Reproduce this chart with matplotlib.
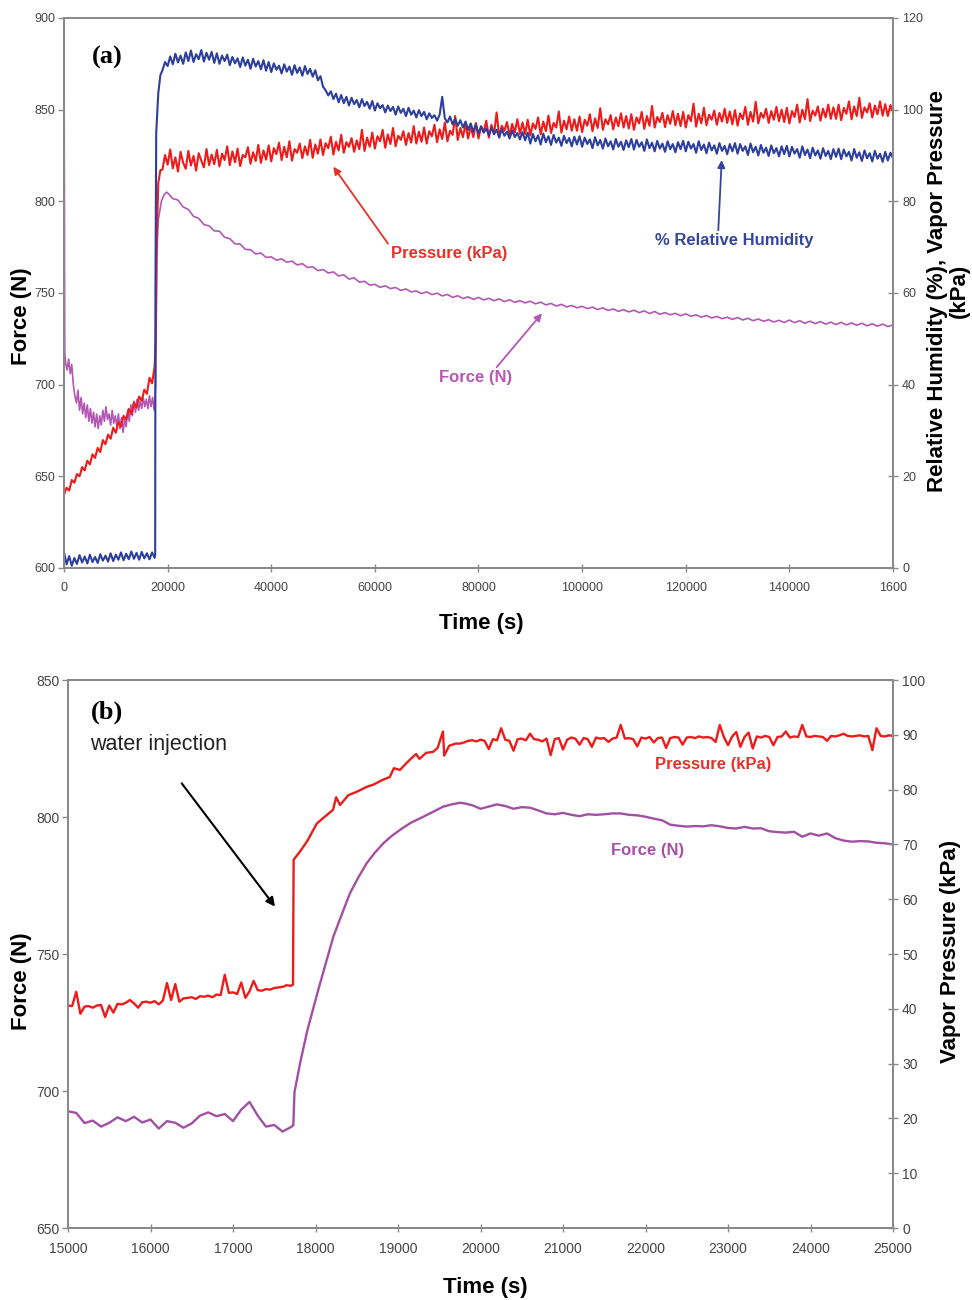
import numpy as np
import matplotlib.pyplot as plt

plt.rcParams['font.family'] = ['Liberation Sans', 'DejaVu Sans']

# ---------------- panel (a): full run, 0 - 160000 s ----------------
a_xticks = [0, 20000, 40000, 60000, 80000, 100000, 120000, 140000, 160000]
a_xticklabels = ['0', '20000', '40000', '60000', '80000', '100000', '120000', '140000', '1600']

# before water injection, sampled every 500 s
a_t_early = np.arange(0, 17501, 500)
a_press_early = [16.0, 17.5, 16.9, 19.2, 18.6, 20.5, 20.0, 22.0, 21.3, 23.4,
                 22.6, 24.8, 24.0, 26.2, 25.3, 27.9, 27.0, 29.1, 28.2, 30.6,
                 29.5, 31.8, 30.9, 33.2, 32.4, 34.7, 33.6, 36.1, 35.0, 37.4,
                 36.5, 38.9, 38.0, 41.5, 40.3, 44.0]
a_rh_early = [3.5, 0.8, 2.6, 0.5, 2.2, 0.9, 2.8, 1.2, 2.5, 1.0,
              2.9, 1.3, 2.4, 1.1, 3.0, 1.6, 2.7, 1.4, 3.2, 1.5,
              2.9, 1.8, 3.4, 1.7, 3.1, 1.9, 3.6, 2.0, 3.3, 1.8,
              3.5, 2.1, 3.2, 1.9, 3.4, 2.2]

# step up after injection
a_press_jump_t = [17700, 17900, 18200, 18600]
a_press_jump = [50.0, 72.0, 84.0, 86.8]
a_rh_jump_t = [17600, 17650, 17800, 18200, 18600]
a_rh_jump = [3.0, 60.0, 95.0, 103.6, 107.5]

# long run, sampled every 500 s
a_t_main = np.arange(19000, 160001, 500)
a_press_main = [
    86.9, 90.1, 88.0, 91.3, 87.2, 89.6, 86.5, 90.8, 88.4, 87.1, 91.0, 87.8, 89.9, 86.7, 90.5, 88.9, 87.4, 91.4, 87.9, 90.2,
    88.1, 91.2, 87.6, 90.4, 89.0, 92.0, 87.9, 90.9, 88.5, 91.5, 87.7, 90.1, 89.6, 91.8, 88.2, 90.7, 88.8, 92.3, 88.4, 91.1,
    89.1, 92.2, 88.7, 91.6, 90.3, 92.8, 89.0, 91.9, 89.6, 93.1, 88.9, 91.4, 90.6, 92.6, 89.4, 92.0, 90.1, 93.4, 89.5, 92.4,
    90.4, 93.5, 90.1, 92.7, 91.6, 94.1, 90.2, 93.0, 91.1, 94.5, 90.6, 92.9, 91.9, 93.8, 90.8, 93.3, 91.4, 95.6, 91.0, 93.9,
    91.9, 95.0, 91.5, 94.2, 93.1, 95.6, 91.7, 94.6, 92.5, 96.0, 92.0, 94.3, 93.4, 95.3, 92.3, 94.9, 92.8, 96.4, 92.6, 95.2,
    93.0, 96.1, 92.6, 95.3, 94.2, 96.7, 92.9, 95.7, 93.6, 97.2, 93.1, 95.4, 94.5, 98.6, 93.4, 96.0, 94.0, 96.9, 93.7, 96.3,
    94.0, 97.1, 93.7, 96.4, 95.1, 97.6, 93.9, 96.7, 94.6, 99.4, 94.1, 96.5, 95.4, 97.3, 94.3, 96.9, 95.0, 97.9, 94.7, 97.2,
    94.7, 97.8, 94.4, 97.0, 95.8, 98.3, 94.6, 97.4, 95.3, 98.7, 94.9, 97.1, 96.1, 99.6, 95.0, 97.6, 95.7, 98.5, 95.4, 97.9,
    95.4, 98.5, 95.1, 97.8, 96.5, 99.0, 95.3, 98.1, 96.0, 100.3, 95.6, 97.9, 96.8, 98.8, 95.7, 98.3, 96.4, 99.2, 96.1, 98.6,
    95.9, 99.0, 95.6, 98.3, 97.0, 99.5, 95.8, 98.6, 96.5, 100.8, 96.1, 98.4, 97.3, 99.3, 96.2, 98.8, 96.9, 99.7, 96.6, 99.1,
    96.4, 99.5, 96.1, 98.8, 97.5, 101.3, 96.3, 99.1, 97.0, 100.4, 96.6, 98.9, 97.8, 99.8, 96.7, 99.3, 97.4, 100.2, 97.1, 99.6,
    96.8, 99.9, 96.5, 99.2, 97.9, 100.6, 96.7, 99.5, 97.4, 101.7, 97.0, 99.3, 98.2, 100.2, 97.1, 99.7, 97.8, 100.6, 97.5, 100.0,
    97.3, 100.4, 97.0, 99.7, 98.4, 101.1, 97.2, 100.0, 97.9, 102.3, 97.5, 99.8, 98.7, 100.7, 97.6, 100.2, 98.3, 101.1, 98.0, 100.5,
    98.0, 101.1, 97.7, 100.4, 99.1, 101.8, 97.9, 100.7, 98.6, 102.6, 98.2, 100.5, 99.4, 101.4, 98.3, 100.9, 99.0, 101.8, 98.7, 101.2,
    98.6, 101.0, 99.5]
a_rh_main = [
    108.6, 110.4, 109.5, 111.6, 109.9, 112.2, 110.3, 111.8, 110.0, 112.5, 110.6, 112.9, 110.4, 112.1, 111.0, 113.0, 110.5, 112.4, 110.9, 112.6,
    110.2, 112.3, 110.0, 111.8, 110.6, 112.0, 109.7, 111.5, 110.1, 111.2, 109.3, 111.4, 109.6, 110.9, 108.9, 111.1, 109.4, 110.6, 108.8, 110.8,
    108.5, 110.4, 108.2, 110.1, 108.7, 109.6, 107.9, 109.9, 108.3, 109.4, 107.6, 109.7, 108.0, 109.2, 107.4, 109.5, 107.8, 108.9, 107.2, 108.6,
    106.4, 107.3, 105.0, 104.2, 103.1, 104.0, 102.3, 103.5, 101.6, 103.2, 101.4, 102.8, 100.9, 102.6, 101.2, 102.1, 100.5, 102.3, 100.8, 101.7,
    100.2, 101.9, 99.8, 101.4, 100.3, 101.0, 99.4, 100.9, 99.7, 100.6, 98.9, 100.7, 99.3, 100.2, 98.6, 100.4, 98.9, 99.8, 98.3, 99.9,
    98.6, 99.5, 97.9, 99.2, 98.2, 98.8, 97.6, 98.9, 102.8, 98.1, 97.2, 98.5, 96.8, 98.0, 96.5, 97.7, 96.1, 97.4, 95.6, 97.0,
    95.2, 96.8, 94.8, 96.3, 95.0, 95.9, 94.4, 96.1, 94.7, 95.6, 93.9, 95.8, 94.3, 95.2, 93.7, 95.5, 94.0, 94.9, 93.5, 95.1,
    93.3, 95.0, 92.6, 94.7, 93.1, 94.4, 92.4, 94.8, 92.9, 94.2, 92.3, 94.5, 92.8, 93.9, 92.1, 94.3, 92.7, 93.8, 92.0, 94.1,
    92.4, 94.2, 91.9, 93.9, 92.5, 93.5, 91.6, 94.0, 92.2, 93.4, 91.5, 93.7, 92.0, 93.1, 91.3, 93.6, 91.9, 93.0, 91.2, 93.3,
    91.8, 93.6, 91.3, 93.4, 91.9, 92.9, 91.0, 93.5, 91.6, 92.8, 90.9, 93.2, 91.5, 92.6, 90.8, 93.1, 91.4, 92.5, 90.7, 92.9,
    91.4, 93.2, 90.9, 93.0, 91.5, 92.5, 90.6, 93.1, 91.2, 92.4, 90.5, 92.8, 91.1, 92.2, 90.4, 92.7, 91.0, 92.1, 90.3, 92.5,
    90.9, 92.7, 90.4, 92.5, 91.0, 92.0, 90.1, 92.6, 90.7, 91.9, 90.0, 92.3, 90.6, 91.7, 89.9, 92.2, 90.5, 91.6, 89.8, 92.0,
    90.3, 92.1, 89.8, 91.9, 90.4, 91.4, 89.5, 92.0, 90.1, 91.3, 89.4, 91.7, 90.0, 91.1, 89.3, 91.6, 89.9, 91.0, 89.2, 91.4,
    89.7, 91.5, 89.2, 91.3, 89.8, 90.8, 88.9, 91.4, 89.5, 90.7, 88.8, 91.1, 89.4, 90.5, 88.7, 91.0, 89.3, 90.4, 88.6, 90.8,
    88.9, 90.6, 89.4]

# force on the left axis
a_force_early_t = [0, 150] + list(range(300, 17401, 300)) + [17600]
a_force_early = [900, 718,
                 712, 708, 714, 706, 711, 700, 694, 690, 697, 686,
                 693, 684, 690, 682, 689, 680, 687, 679, 685, 677,
                 684, 676, 683, 678, 686, 680, 688, 681, 684, 678,
                 686, 679, 683, 677, 684, 676, 682, 674, 681, 677,
                 686, 680, 689, 683, 691, 685, 692, 686, 691, 687,
                 693, 688, 692, 687, 694, 688, 693, 686,
                 695]
a_force_jump_t = [17700, 17800, 17900, 18200, 18800, 19300, 19800]
a_force_jump = [700, 738, 770, 790, 800, 803.5, 805.0]
a_force_main_t = np.arange(20000, 160001, 1000)
a_force_main = [
    804.6, 801.5, 800.7, 796.9, 795.6, 791.8, 790.7, 787.3, 786.6, 783.9,
    783.7, 780.4, 779.6, 776.8, 776.7, 773.8, 773.6, 771.3, 771.8, 769.4,
    769.7, 767.9, 768.6, 766.8, 767.4, 765.3, 766.0, 763.9, 764.3, 762.2,
    762.8, 760.9, 761.5, 759.3, 759.9, 757.6, 758.3, 755.9, 756.4, 754.3,
    754.7, 753.1, 753.9, 752.4, 753.0, 751.4, 752.2, 750.6, 751.1, 749.7,
    750.6, 749.1, 749.9, 748.4, 749.2, 747.6, 748.5, 747.0, 747.9, 746.5,
    747.6, 746.2, 747.1, 745.8, 746.8, 745.3, 746.3, 744.9, 745.8, 744.6,
    745.5, 744.1, 745.0, 743.5, 744.3, 742.9, 743.8, 742.4, 743.2, 741.9,
    742.7, 741.5, 742.3, 741.0, 741.9, 740.5, 741.3, 740.0, 740.9, 739.7,
    740.6, 739.3, 740.2, 738.8, 739.9, 738.4, 739.3, 738.1, 738.9, 737.6,
    738.6, 737.3, 738.1, 736.8, 737.7, 736.4, 737.2, 736.0, 736.8, 735.6,
    736.6, 735.3, 736.2, 734.9, 735.8, 734.6, 735.4, 734.2, 735.1, 733.9,
    735.2, 733.8, 734.9, 733.5, 734.6, 733.3, 734.4, 733.0, 734.1, 732.8,
    734.0, 732.6, 733.7, 732.4, 733.5, 732.1, 733.2, 731.9, 733.0, 731.7,
    732.6]

# ---------------- panel (b): zoom on the injection, 15000 - 25000 s ----------------
b_t_pre = np.arange(15000, 17701, 50)
b_press_pre = [40.6, 40.5, 43.1, 39.1, 40.4, 40.5, 40.2, 40.6, 40.7, 38.5,
               40.6, 39.3, 40.9, 40.8, 41.1, 41.6, 41.0, 40.2, 41.2, 41.3,
               41.1, 41.4, 40.8, 41.5, 44.7, 41.6, 44.5, 41.3, 41.9, 42.0,
               42.1, 41.8, 42.3, 42.2, 42.4, 42.1, 42.6, 42.5, 46.2, 42.9,
               43.0, 42.7, 44.8, 42.0, 43.2, 45.1, 43.4, 43.3, 43.6, 43.5,
               43.8, 43.9, 44.0, 44.3, 44.2]
b_press_rise_t = [17727, 17735, 17812, 17900, 18015, 18100, 18212, 18250, 18297, 18400,
                  18500, 18620, 18700, 18818, 18900, 18950, 19024, 19100, 19182, 19220,
                  19260, 19340, 19427, 19480, 19545, 19560, 19620, 19700, 19752]
b_press_rise = [44.4, 67.2, 68.7, 70.6, 73.8, 74.9, 76.3, 78.6, 77.2, 79.0,
                79.6, 80.5, 80.9, 81.8, 82.3, 83.9, 83.6, 84.8, 86.0, 86.5,
                85.6, 86.7, 86.9, 87.6, 90.6, 86.2, 88.0, 88.4, 88.4]
b_t_plat = np.arange(19800, 25001, 50)
b_press_plat = [
    88.6, 88.9, 89.0, 88.8, 89.1, 88.9, 87.4, 89.2, 89.0, 91.2,
    89.1, 88.9, 87.1, 89.2, 89.3, 89.0, 90.2, 89.2, 89.1, 88.8,
    89.3, 86.3, 89.2, 89.4, 87.3, 89.1, 89.5, 89.3, 88.2, 89.4,
    89.2, 87.8, 89.5, 89.3, 89.4, 88.7, 89.3, 89.5, 91.8, 89.3,
    89.4, 89.2, 87.9, 89.5, 89.3, 89.6, 88.6, 89.4, 89.5, 87.6,
    89.4, 89.6, 89.5, 88.2, 89.5, 89.6, 89.4, 89.7, 89.5, 89.6,
    89.4, 88.7, 91.8, 89.6, 88.1, 89.7, 90.5, 87.8, 89.6, 90.4,
    87.5, 89.7, 89.5, 89.8, 89.6, 88.1, 89.6, 89.7, 90.6, 89.5,
    89.7, 89.6, 91.8, 89.7, 89.6, 89.8, 89.7, 89.6, 88.9, 89.8,
    89.7, 89.9, 90.2, 89.8, 89.7, 89.8, 89.9, 89.7, 89.8, 87.2,
    91.2, 89.8, 89.7, 89.9, 89.8]

b_force_pre_t = np.arange(15000, 17701, 100)
b_force_pre = [692.6, 692.0, 688.3, 689.2, 687.0, 688.4, 690.4, 689.0, 690.6, 688.5,
               689.6, 686.3, 689.0, 688.4, 686.6, 688.2, 691.0, 692.2, 690.8, 691.6,
               689.0, 693.2, 696.0, 691.0, 687.0, 687.6, 685.2, 686.8]
b_force_rise_t = [17731, 17745, 17812, 17900, 18034, 18100, 18216, 18300, 18418, 18520,
                  18620, 18720, 18822, 18920, 19024, 19150, 19307, 19420, 19549, 19650,
                  19752]
b_force_rise = [687.5, 699.5, 710.0, 722.0, 737.0, 744.0, 756.3, 763.0, 772.2, 778.0,
                783.1, 787.0, 790.4, 793.0, 795.3, 797.8, 800.1, 801.8, 803.8, 804.6,
                805.2]
b_force_plat_t = np.arange(19800, 25001, 100)
b_force_plat = [805.0, 804.3, 803.0, 803.8, 804.6, 804.0, 803.0, 803.6, 803.4, 802.4,
                801.3, 801.0, 801.5, 800.8, 800.3, 801.0, 800.8, 801.0, 801.3, 801.3,
                800.8, 800.6, 800.1, 799.4, 798.8, 797.2, 796.8, 796.5, 796.7, 796.6,
                797.0, 796.6, 796.0, 795.8, 796.4, 795.8, 795.9, 794.8, 794.5, 794.3,
                794.6, 792.8, 794.0, 793.2, 794.0, 792.3, 791.4, 791.0, 791.2, 791.1,
                790.6, 790.4, 790.0]

RED = '#ee1b1b'
BLUE = '#2d3f9d'
PURPLE_A = '#b457b4'
PURPLE_B = '#a250a2'
SPINE = '#8a8a8a'
TICKTXT = '#444444'


def join(*parts):
    return np.concatenate([np.asarray(p, dtype=float) for p in parts])


def frame(ax, ax2, size):
    for a in (ax, ax2):
        for s in a.spines.values():
            s.set_color(SPINE)
            s.set_linewidth(1.4)
    ax.tick_params(axis='y', direction='out', length=4, width=1, color=SPINE,
                   labelsize=size, labelcolor=TICKTXT, pad=2)
    ax.tick_params(axis='x', direction='inout', length=6, width=1, color=SPINE,
                   labelsize=size, labelcolor=TICKTXT, pad=7)
    ax2.tick_params(axis='y', direction='inout', length=7, width=1, color=SPINE,
                    labelsize=size, labelcolor=TICKTXT, pad=3)


fig = plt.figure(figsize=(9.72, 13.0), dpi=100)

# ---- (a) ----
ax = fig.add_axes([0.06584, 0.56308, 0.85288, 0.42308])
ax2 = ax.twinx()
ax.plot(join(a_force_early_t, a_force_jump_t, a_force_main_t),
        join(a_force_early, a_force_jump, a_force_main), color=PURPLE_A, lw=1.2)
ax2.plot(join(a_t_early, a_press_jump_t, a_t_main),
         join(a_press_early, a_press_jump, a_press_main), color=RED, lw=1.5)
ax2.plot(join(a_t_early, a_rh_jump_t, a_t_main),
         join(a_rh_early, a_rh_jump, a_rh_main), color=BLUE, lw=1.5)
ax.set_xlim(0, 160000)
ax.set_ylim(600, 900)
ax2.set_ylim(0, 120)
ax.set_xticks(a_xticks)
ax.set_xticklabels(a_xticklabels)
ax.set_yticks(np.arange(600, 901, 50))
ax2.set_yticks(np.arange(0, 121, 20))
frame(ax, ax2, 9)

ax.text(8300, 878.7, '(a)', family=['Liberation Serif', 'DejaVu Serif'],
        fontweight='bold', fontsize=19, ha='center', va='center')
ax.annotate('Pressure (kPa)', xy=(51977, 818.9), xytext=(74306, 771.5),
            color='#e4322a', fontsize=12, fontweight='bold', ha='center', va='center',
            arrowprops=dict(arrowstyle='-|>', color='#e4322a', lw=1.3, mutation_scale=11,
                            shrinkA=0, shrinkB=0, relpos=(0.0, 0.9)))
ax.annotate('% Relative Humidity', xy=(126937, 822.5), xytext=(129312, 778.6),
            color='#3446a0', fontsize=12, fontweight='bold', ha='center', va='center',
            arrowprops=dict(arrowstyle='-|>', color='#3446a0', lw=1.3, mutation_scale=11,
                            shrinkA=0, shrinkB=0, relpos=(0.4, 1.0)))
ax.annotate('Force (N)', xy=(92256, 738.9), xytext=(79517, 703.9),
            color='#b557b5', fontsize=12, fontweight='bold', ha='center', va='center',
            arrowprops=dict(arrowstyle='-|>', color='#b557b5', lw=1.3, mutation_scale=11,
                            shrinkA=0, shrinkB=0, relpos=(0.75, 1.0)))

fig.text(0.4949, 0.520, 'Time (s)', fontsize=16, fontweight='bold', ha='center', va='center')
fig.text(0.0226, 0.7569, 'Force (N)', fontsize=16, fontweight='bold', rotation=90,
         ha='center', va='center')
fig.text(0.9753, 0.7765, 'Relative Humidity (%), Vapor Pressure\n(kPa)', fontsize=16,
         fontweight='bold', rotation=90, ha='center', va='center', multialignment='center',
         linespacing=1.05)

# ---- (b) ----
bx = fig.add_axes([0.06996, 0.05538, 0.84877, 0.42154])
bx2 = bx.twinx()
bx.plot(join(b_force_pre_t, b_force_rise_t, b_force_plat_t),
        join(b_force_pre, b_force_rise, b_force_plat), color=PURPLE_B, lw=1.7)
bx2.plot(join(b_t_pre, b_press_rise_t, b_t_plat),
         join(b_press_pre, b_press_rise, b_press_plat), color=RED, lw=1.7)
bx.set_xlim(15000, 25000)
bx.set_ylim(650, 850)
bx2.set_ylim(0, 100)
bx.set_xticks(np.arange(15000, 25001, 1000))
bx.set_yticks(np.arange(650, 851, 50))
bx2.set_yticks(np.arange(0, 101, 10))
frame(bx, bx2, 10)

bx.text(15473, 838.3, '(b)', family=['Liberation Serif', 'DejaVu Serif'],
        fontweight='bold', fontsize=19, ha='center', va='center')
bx.text(15267, 826.3, 'water injection', fontsize=15.5, ha='left', va='center', color='#222222')
bx.annotate('', xy=(17509, 767.3), xytext=(16378, 812.3),
            arrowprops=dict(arrowstyle='-|>', color='black', lw=1.5, mutation_scale=13,
                            shrinkA=0, shrinkB=0))
bx.text(22818, 819.0, 'Pressure (kPa)', color='#e4322a', fontsize=12, fontweight='bold',
        ha='center', va='center')
bx.text(22030, 787.6, 'Force (N)', color='#a850a8', fontsize=12, fontweight='bold',
        ha='center', va='center')

fig.text(0.499, 0.010, 'Time (s)', fontsize=16, fontweight='bold', ha='center', va='center')
fig.text(0.0226, 0.245, 'Force (N)', fontsize=16, fontweight='bold', rotation=90,
         ha='center', va='center')
fig.text(0.9774, 0.268, 'Vapor Pressure (kPa)', fontsize=16, fontweight='bold', rotation=90,
         ha='center', va='center')

fig.savefig('out.png', dpi=100)
